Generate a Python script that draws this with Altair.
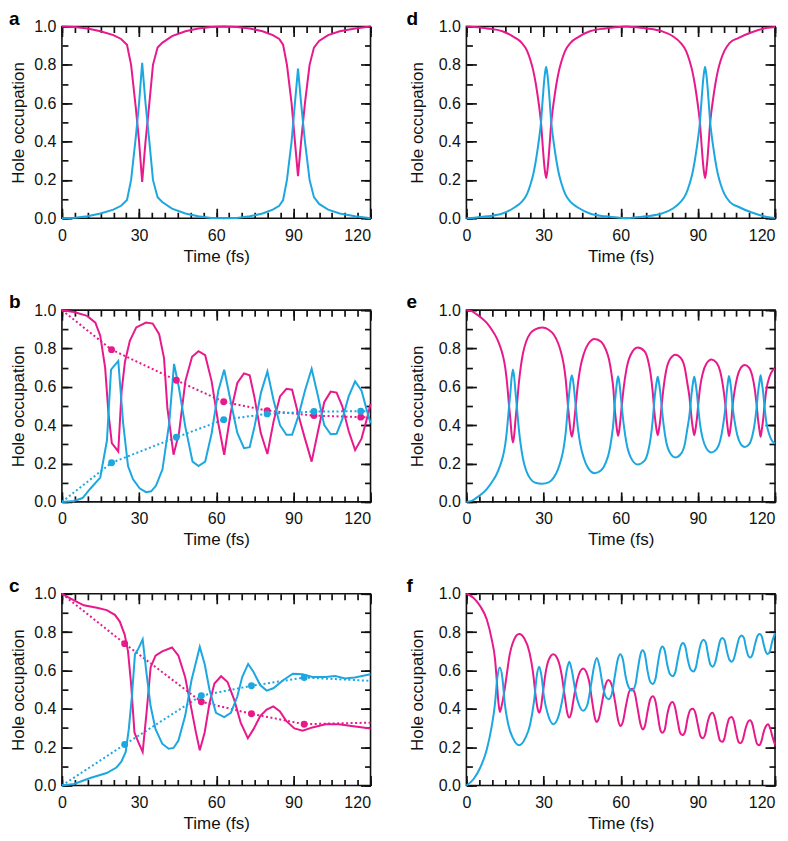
import altair as alt
import pandas as pd

PINK = "#E8198B"
BLUE = "#1CA7E1"
FONT = "Liberation Sans"
W, H = 309, 192

X_DOMAIN = [0, 120]
Y_DOMAIN = [0, 1]
X_MAJOR = [0, 30, 60, 90, 120]
X_MINOR = [0, 5, 10, 15, 20, 25, 30, 35, 40, 45, 50, 55, 60, 65, 70, 75, 80, 85, 90, 95, 100, 105, 110, 115, 120]
Y_MAJOR = [0.0, 0.2, 0.4, 0.6, 0.8, 1.0]
Y_MINOR = [0.0, 0.1, 0.2, 0.3, 0.4, 0.5, 0.6, 0.7, 0.8, 0.9, 1.0]
X_TITLE = "Time (fs)"
Y_TITLE = "Hole occupation"

# ---------------- panel a ----------------
A_T = [0, 5, 10, 15, 20, 23, 25.3, 26.9, 28.7, 30, 31.2, 32.5, 34, 35.4, 37.2, 39, 42.8, 48, 53, 58,
       63, 68, 73, 78, 82, 84.5, 86, 87.5, 89.3, 90.6, 91.8, 93, 94.5, 96.3, 98, 100, 103.5, 108, 114, 120]
A_PINK = [1.0, 0.997, 0.99, 0.975, 0.955, 0.935, 0.905, 0.80, 0.58, 0.40, 0.19, 0.40, 0.60, 0.80, 0.89,
          0.915, 0.95, 0.975, 0.99, 0.998, 1.0, 0.998, 0.99, 0.975, 0.955, 0.935, 0.905, 0.80, 0.60, 0.40,
          0.22, 0.40, 0.60, 0.80, 0.89, 0.925, 0.955, 0.975, 0.99, 1.0]
A_BLUE = [0, 0.003, 0.01, 0.025, 0.045, 0.065, 0.095, 0.20, 0.42, 0.60, 0.81, 0.60, 0.40, 0.20, 0.11,
          0.085, 0.05, 0.025, 0.01, 0.002, 0, 0.002, 0.01, 0.025, 0.045, 0.065, 0.095, 0.20, 0.40, 0.60,
          0.78, 0.60, 0.40, 0.20, 0.11, 0.075, 0.045, 0.025, 0.01, 0]

# ---------------- panel b ----------------
B_PINK_T = [0, 4.7, 9.8, 13, 14.9, 16.8, 18.1, 19.4, 21.9, 23.2, 24.5, 26.4, 28.9, 32.7, 35.3, 37.8, 39.7,
            41, 43.4, 45.5, 48, 50.6, 53.1, 55.7, 58.2, 60.8, 63.1, 65.7, 68.2, 70.8, 73, 74.8, 77.3, 79.9,
            82.3, 84.8, 87.3, 89.5, 92, 94.5, 97.1, 99.6, 102, 104.5, 106.8, 109, 111.5, 114, 116.5, 118.5, 120]
B_PINK = [1.0, 0.99, 0.97, 0.935, 0.867, 0.70, 0.46, 0.306, 0.263, 0.578, 0.73, 0.84, 0.91, 0.935, 0.93,
          0.875, 0.75, 0.49, 0.246, 0.357, 0.63, 0.757, 0.786, 0.765, 0.63, 0.41, 0.246, 0.47, 0.62, 0.67,
          0.66, 0.55, 0.36, 0.25, 0.42, 0.55, 0.59, 0.585, 0.45, 0.33, 0.21, 0.37, 0.52, 0.575, 0.57, 0.5,
          0.37, 0.27, 0.33, 0.43, 0.51]
B_BLUE_T = [0, 4.7, 8, 11.1, 14.9, 17.5, 19.1, 21.9, 23.8, 25.7, 27.6, 30.2, 32.7, 34.7, 36.6, 39.1, 41.7,
            43.6, 45.5, 48, 50.8, 53.1, 55.7, 58.2, 60.8, 63.1, 65.7, 68.2, 70.8, 73, 75, 77.4, 79.9, 82.3,
            84.8, 87.3, 89.5, 92, 94.5, 97.1, 99.6, 102, 104.5, 106.8, 109, 111.5, 114, 116.5, 118.5, 120]
B_BLUE = [0, 0.005, 0.02, 0.07, 0.127, 0.32, 0.69, 0.735, 0.41, 0.187, 0.119, 0.071, 0.051, 0.055, 0.085,
          0.17, 0.41, 0.72, 0.595, 0.39, 0.21, 0.187, 0.21, 0.357, 0.578, 0.689, 0.52, 0.36, 0.28, 0.285,
          0.40, 0.57, 0.68, 0.53, 0.40, 0.35, 0.35, 0.45, 0.58, 0.694, 0.55, 0.40, 0.353, 0.355, 0.43, 0.55,
          0.629, 0.58, 0.48, 0.41]
B_MARK_T = [19.3, 44.5, 62.9, 79.8, 98, 116.2]
B_MARK_PINK = [0.794, 0.634, 0.522, 0.476, 0.45, 0.442]
B_MARK_BLUE = [0.204, 0.337, 0.429, 0.459, 0.471, 0.473]
B_DOT_START = [1.0, 0.0]   # pink, blue at t = 0
B_DOT_END = [0.44, 0.473]  # pink, blue at t = 120

# ---------------- panel c ----------------
C_PINK_T = [0, 4.7, 8.5, 13.6, 17.4, 20.6, 22.5, 24.4, 25.7, 26.9, 28.2, 29.7, 31.4, 32.9, 34.5, 36.4, 39,
            42.8, 45.3, 47.9, 50.4, 52.1, 53.6, 55.5, 57.4, 59.3, 61.9, 64.4, 67, 69.5, 72.3, 74.5, 77.1,
            79.6, 82.2, 84.7, 87.2, 90.4, 93.6, 97.4, 102.5, 107.6, 112.6, 120]
C_PINK = [1.0, 0.966, 0.94, 0.927, 0.915, 0.89, 0.855, 0.787, 0.70, 0.53, 0.277, 0.226, 0.175, 0.38, 0.617,
          0.677, 0.70, 0.72, 0.677, 0.566, 0.396, 0.277, 0.184, 0.277, 0.43, 0.532, 0.57, 0.54, 0.447, 0.328,
          0.247, 0.294, 0.362, 0.396, 0.413, 0.388, 0.337, 0.298, 0.286, 0.303, 0.32, 0.32, 0.311, 0.298]
C_BLUE_T = [0, 4.7, 11, 17.4, 21.2, 23.1, 24.8, 26, 27.2, 28.4, 29.6, 31.4, 32.9, 34.5, 36.4, 39, 41.5, 43.4,
            45.3, 47.9, 50.4, 53.6, 55.5, 57.4, 59.9, 63.1, 65.7, 68.2, 70.1, 72.4, 74.5, 77.1, 79.6, 82.2,
            86, 89.8, 93.6, 97.4, 102.5, 106.3, 110.1, 113.9, 120]
C_BLUE = [0, 0.008, 0.039, 0.065, 0.094, 0.124, 0.175, 0.294, 0.464, 0.685, 0.71, 0.762, 0.583, 0.413,
          0.294, 0.218, 0.192, 0.196, 0.235, 0.362, 0.55, 0.723, 0.634, 0.498, 0.379, 0.357, 0.379, 0.464,
          0.566, 0.634, 0.592, 0.524, 0.495, 0.507, 0.549, 0.583, 0.58, 0.566, 0.566, 0.571, 0.558, 0.563, 0.58]
C_MARK_T = [24.4, 54.2, 73.7, 94.2]
C_MARK_PINK = [0.74, 0.437, 0.374, 0.32]
C_MARK_BLUE = [0.214, 0.469, 0.52, 0.563]
C_DOT_START = [1.0, 0.0]
C_DOT_END = [0.328, 0.546]

# ---------------- panel d ----------------
D_T = [0, 3, 8, 14, 18.5, 21.5, 23.6, 25, 26, 27, 27.9, 28.5, 29, 29.5, 30, 30.5, 31, 31.5, 32, 32.5,
       33, 33.5, 34.1, 35, 36, 37, 38.4, 40.5, 43.5, 48, 54, 60, 62, 64, 70, 76, 80.3, 83.3, 85.4, 86.8,
       87.8, 88.8, 89.7, 90.3, 90.8, 91.3, 91.8, 92.3, 92.8, 93.3, 93.8, 94.3, 94.8, 95.3, 95.9, 96.8, 97.8,
       98.8, 100.3, 102.4, 105.7, 111, 117, 120]
D_PINK = [1.0, 0.997, 0.99, 0.975, 0.945, 0.915, 0.873, 0.82, 0.77, 0.70, 0.62, 0.56, 0.50, 0.41, 0.32,
          0.25, 0.21, 0.25, 0.32, 0.41, 0.50, 0.56, 0.62, 0.70, 0.77, 0.82, 0.873, 0.915, 0.945, 0.975,
          0.99, 0.998, 1.0, 0.998, 0.99, 0.975, 0.949, 0.915, 0.873, 0.82, 0.77, 0.70, 0.62, 0.56, 0.50,
          0.41, 0.32, 0.25, 0.21, 0.25, 0.32, 0.41, 0.50, 0.56, 0.62, 0.70, 0.77, 0.82, 0.873, 0.915,
          0.94, 0.97, 0.993, 0.998]
D_BLUE = [0, 0.003, 0.01, 0.025, 0.055, 0.085, 0.127, 0.18, 0.23, 0.30, 0.38, 0.44, 0.50, 0.59, 0.68,
          0.75, 0.79, 0.75, 0.68, 0.59, 0.50, 0.44, 0.38, 0.30, 0.23, 0.18, 0.127, 0.085, 0.055, 0.025,
          0.01, 0.002, 0, 0.002, 0.01, 0.025, 0.051, 0.085, 0.127, 0.18, 0.23, 0.30, 0.38, 0.44, 0.50,
          0.59, 0.68, 0.75, 0.79, 0.75, 0.68, 0.59, 0.50, 0.44, 0.38, 0.30, 0.23, 0.18, 0.127, 0.085,
          0.06, 0.03, 0.007, 0.002]

# ---------------- panel e ----------------
E_T = [0, 2, 4, 6, 8, 10, 11.7, 13, 14.3, 15.1,
       15.8, 16.6, 17.1, 17.6, 18.1, 18.6, 19.1, 19.6, 20.4, 21.1,
       22, 23.2, 24.8, 26.8, 29.4, 32, 34, 35.6, 36.8, 37.8,
       38.6, 39.5, 40, 40.5, 41, 41.5, 42, 42.5, 43.4, 44.3,
       45.6, 47.4, 49.9, 52.4, 54.2, 55.5, 56.4, 57.2, 57.6, 58.1,
       58.5, 59, 59.5, 59.9, 60.4, 61.2, 62.2, 63.8, 66.6, 69.3,
       70.6, 71.6, 72.4, 72.9, 73.4, 73.9, 74.4, 74.9, 75.4, 75.9,
       76.7, 77.6, 79.2, 81.3, 83.4, 84.9, 85.9, 86.7, 87.1, 87.6,
       88.1, 88.6, 89.1, 89.6, 90.1, 90.9, 91.9, 93.3, 95.3, 97.3,
       98.7, 99.7, 100.5, 100.9, 101.3, 101.7, 102.1, 102.6, 103, 103.5,
       104.3, 105.3, 106.6, 108.2, 109.9, 111.1, 112.1, 112.9, 113.4, 113.9,
       114.4, 114.9, 115.4, 115.9, 116.7, 117.8, 119, 120]
E_PINK = [1.0, 0.995, 0.978, 0.958, 0.932, 0.895, 0.857, 0.815, 0.757, 0.70,
          0.62, 0.50, 0.43, 0.35, 0.31, 0.35, 0.43, 0.50, 0.62, 0.70,
          0.775, 0.835, 0.878, 0.90, 0.91, 0.898, 0.872, 0.83, 0.78, 0.72,
          0.64, 0.50, 0.43, 0.37, 0.34, 0.37, 0.43, 0.50, 0.62, 0.70,
          0.77, 0.825, 0.85, 0.835, 0.795, 0.74, 0.67, 0.58, 0.50, 0.43,
          0.38, 0.345, 0.38, 0.43, 0.50, 0.60, 0.69, 0.765, 0.805, 0.785,
          0.74, 0.67, 0.58, 0.50, 0.43, 0.38, 0.348, 0.38, 0.43, 0.50,
          0.60, 0.68, 0.745, 0.768, 0.75, 0.70, 0.62, 0.55, 0.50, 0.43,
          0.38, 0.348, 0.38, 0.43, 0.50, 0.60, 0.67, 0.72, 0.742, 0.725,
          0.68, 0.61, 0.53, 0.48, 0.42, 0.375, 0.343, 0.375, 0.42, 0.50,
          0.58, 0.65, 0.697, 0.714, 0.70, 0.66, 0.59, 0.50, 0.43, 0.38,
          0.34, 0.38, 0.43, 0.50, 0.59, 0.65, 0.685, 0.695]
E_BLUE = [0.0, 0.005, 0.022, 0.042, 0.068, 0.105, 0.143, 0.185, 0.243, 0.30,
          0.38, 0.50, 0.57, 0.65, 0.69, 0.65, 0.57, 0.50, 0.38, 0.30,
          0.225, 0.165, 0.122, 0.10, 0.095, 0.102, 0.128, 0.17, 0.22, 0.28,
          0.36, 0.50, 0.57, 0.63, 0.66, 0.63, 0.57, 0.50, 0.38, 0.30,
          0.23, 0.175, 0.15, 0.165, 0.205, 0.26, 0.33, 0.42, 0.50, 0.57,
          0.62, 0.655, 0.62, 0.57, 0.50, 0.40, 0.31, 0.235, 0.195, 0.215,
          0.26, 0.33, 0.42, 0.50, 0.57, 0.62, 0.652, 0.62, 0.57, 0.50,
          0.40, 0.32, 0.255, 0.232, 0.25, 0.30, 0.38, 0.45, 0.50, 0.57,
          0.62, 0.652, 0.62, 0.57, 0.50, 0.40, 0.33, 0.28, 0.258, 0.275,
          0.32, 0.39, 0.47, 0.52, 0.58, 0.625, 0.657, 0.625, 0.58, 0.50,
          0.42, 0.35, 0.303, 0.286, 0.30, 0.34, 0.41, 0.50, 0.57, 0.62,
          0.66, 0.62, 0.57, 0.50, 0.41, 0.35, 0.315, 0.305]

# ---------------- panel f ----------------
F_PINK_T = [0, 2.8, 5.4, 7.9, 9.8, 11.1, 11.8, 12.4, 13, 13.6,
            14.5, 15.5, 16.8, 18.5, 20.5, 22.6, 24.6, 25.9, 27, 27.7,
            28.3, 28.9, 29.7, 30.7, 32, 33.8, 35.6, 37, 38.3, 39.2,
            40, 40.8, 41.8, 43.1, 45.4, 47.6, 49, 50, 50.7, 51.5,
            52.7, 54, 55.2, 56.6, 57.9, 59, 59.8, 60.8, 62.1, 63.3,
            64.4, 65.5, 66.6, 67.7, 68.5, 69.4, 70.5, 71.5, 72.5, 73.5,
            74.5, 75.4, 76.2, 77.1, 78.1, 79.1, 80.1, 81.1, 82.1, 83.1,
            84, 85, 86, 87.1, 88.1, 89.1, 90.1, 91.1, 91.9, 92.8,
            93.8, 94.8, 95.7, 96.6, 97.6, 98.6, 99.4, 100.3, 101.3, 102.2,
            103.1, 104, 104.9, 105.8, 106.6, 107.5, 108.5, 109.4, 110.3, 111.2,
            112.1, 113, 113.8, 114.7, 115.6, 116.5, 117.3, 118.1, 119, 120]
F_PINK = [1.0, 0.978, 0.935, 0.867, 0.765, 0.663, 0.55, 0.44, 0.383, 0.41,
          0.47, 0.56, 0.68, 0.76, 0.79, 0.765, 0.69, 0.59, 0.46, 0.40,
          0.38, 0.40, 0.48, 0.58, 0.655, 0.685, 0.655, 0.58, 0.46, 0.38,
          0.355, 0.38, 0.46, 0.55, 0.61, 0.55, 0.43, 0.35, 0.332, 0.35,
          0.43, 0.52, 0.55, 0.52, 0.43, 0.34, 0.31, 0.33, 0.42, 0.49,
          0.505, 0.48, 0.40, 0.32, 0.293, 0.31, 0.39, 0.45, 0.465, 0.44,
          0.36, 0.29, 0.275, 0.29, 0.37, 0.42, 0.435, 0.41, 0.34, 0.275,
          0.263, 0.28, 0.35, 0.395, 0.40, 0.375, 0.31, 0.255, 0.247, 0.265,
          0.33, 0.37, 0.38, 0.355, 0.29, 0.235, 0.228, 0.245, 0.31, 0.35,
          0.357, 0.335, 0.275, 0.228, 0.221, 0.24, 0.295, 0.33, 0.34, 0.32,
          0.265, 0.218, 0.21, 0.23, 0.28, 0.31, 0.32, 0.30, 0.255, 0.213]
F_BLUE_T = [0, 2.8, 5.4, 7.9, 9.8, 11.1, 12, 13, 14, 14.9,
            16.2, 18.1, 20.5, 22.9, 24.8, 26.3, 27.5, 28.3, 29.1, 30.2,
            31.7, 33.8, 35.9, 37.6, 39, 40, 41, 42.4, 43.8, 45.4,
            47, 48.4, 49.7, 50.7, 51.7, 52.9, 54.1, 55.3, 56.5, 57.7,
            58.9, 59.8, 60.8, 61.9, 63.2, 64.4, 65.6, 66.7, 67.7, 68.5,
            69.4, 70.4, 71.5, 72.5, 73.5, 74.5, 75.4, 76.2, 77.1, 78.1,
            79.2, 80.2, 81.2, 82.2, 83.3, 84.2, 85.1, 86.1, 87.2, 88.2,
            89.2, 90.2, 91.3, 92.2, 93.1, 94, 94.9, 95.8, 96.7, 97.7,
            98.7, 99.5, 100.4, 101.3, 102.3, 103.2, 104.1, 105.1, 106.1, 107,
            107.9, 108.7, 109.6, 110.4, 111.3, 112.2, 113.2, 114, 114.8, 115.7,
            116.5, 117.2, 118, 118.9, 120]
F_BLUE = [0.0, 0.034, 0.094, 0.187, 0.306, 0.425, 0.56, 0.615, 0.56, 0.43,
          0.323, 0.247, 0.21, 0.247, 0.32, 0.44, 0.585, 0.62, 0.58, 0.46,
          0.37, 0.32, 0.365, 0.47, 0.60, 0.645, 0.60, 0.49, 0.42, 0.39,
          0.42, 0.52, 0.625, 0.665, 0.625, 0.53, 0.465, 0.45, 0.475, 0.57,
          0.66, 0.685, 0.66, 0.57, 0.51, 0.495, 0.52, 0.61, 0.685, 0.705,
          0.685, 0.60, 0.54, 0.53, 0.555, 0.64, 0.705, 0.725, 0.705, 0.63,
          0.58, 0.57, 0.59, 0.66, 0.725, 0.743, 0.725, 0.655, 0.605, 0.595,
          0.615, 0.685, 0.745, 0.76, 0.745, 0.68, 0.63, 0.62, 0.64, 0.70,
          0.757, 0.77, 0.757, 0.70, 0.655, 0.646, 0.665, 0.72, 0.77, 0.782,
          0.77, 0.72, 0.677, 0.668, 0.685, 0.735, 0.78, 0.79, 0.78, 0.73,
          0.695, 0.686, 0.70, 0.75, 0.795]

XS = alt.Scale(domain=X_DOMAIN, nice=False, zero=False)
YS = alt.Scale(domain=Y_DOMAIN, nice=False, zero=False)
TICK = dict(domain=False, grid=False, tickColor="#111111", tickWidth=1.7, minExtent=0)
LAB = dict(labelFont=FONT, labelFontSize=16, labelColor="#111111", labelFlush=False, labelOverlap=False)
TIT = dict(titleFont=FONT, titleFontSize=17, titleFontWeight="normal", titleColor="#111111")


def axis_layers(title_pad):
    frame = pd.DataFrame({"t": X_DOMAIN, "v": Y_DOMAIN})
    x_align = {"condition": {"test": "datum.value == 120", "value": "right"}, "value": "center"}
    specs = [
        (alt.Axis(orient="bottom", values=X_MAJOR, tickSize=10, offset=-10, labelPadding=9,
                  labelAlign=x_align, title=X_TITLE, titlePadding=5, **LAB, **TIT, **TICK),
         alt.Axis(orient="left", values=Y_MAJOR, format=".1f", tickSize=10, offset=-10, labelPadding=6,
                  title=Y_TITLE, titlePadding=title_pad, **LAB, **TIT, **TICK)),
        (alt.Axis(orient="top", values=X_MAJOR, tickSize=10, offset=-10, labels=False, title=None, **TICK),
         alt.Axis(orient="right", values=Y_MAJOR, tickSize=10, offset=-10, labels=False, title=None, **TICK)),
        (alt.Axis(orient="bottom", values=X_MINOR, tickSize=6, offset=-6, labels=False, title=None, **TICK),
         alt.Axis(orient="left", values=Y_MINOR, tickSize=6, offset=-6, labels=False, title=None, **TICK)),
        (alt.Axis(orient="top", values=X_MINOR, tickSize=6, offset=-6, labels=False, title=None, **TICK),
         alt.Axis(orient="right", values=Y_MINOR, tickSize=6, offset=-6, labels=False, title=None, **TICK)),
    ]
    return [
        alt.Chart(frame).mark_point(opacity=0, size=0, strokeWidth=0).encode(
            x=alt.X("t:Q", scale=XS, axis=ax), y=alt.Y("v:Q", scale=YS, axis=ay))
        for ax, ay in specs
    ]


def line(ts, ys, color, interp="linear", dash=None, width=2):
    df = pd.DataFrame({"t": ts, "v": ys})
    kw = dict(color=color, strokeWidth=width, interpolate=interp)
    if dash:
        kw["strokeDash"] = dash
    return alt.Chart(df).mark_line(**kw).encode(
        x=alt.X("t:Q", scale=XS, axis=None), y=alt.Y("v:Q", scale=YS, axis=None))


def dots(ts, ys, color):
    df = pd.DataFrame({"t": ts, "v": ys})
    return alt.Chart(df).mark_circle(color=color, size=48, opacity=1).encode(
        x=alt.X("t:Q", scale=XS, axis=None), y=alt.Y("v:Q", scale=YS, axis=None))


def letter(ch, dx):
    df = pd.DataFrame({"label": [ch]})
    return alt.Chart(df).mark_text(align="left", baseline="top", font=FONT, fontSize=19,
                                   fontWeight="bold", color="#000000").encode(
        x=alt.value(dx), y=alt.value(-17), text="label:N")


def panel(ch, col, layers):
    dx = -53 if col == 0 else -60
    tp = 6 if col == 0 else 12
    return alt.layer(*axis_layers(tp), *layers, letter(ch, dx)).resolve_axis(
        x="independent", y="independent").properties(width=W, height=H)


def with_markers(mark_t, mark_p, mark_b, start, end):
    tt = [X_DOMAIN[0]] + mark_t + [X_DOMAIN[1]]
    return [
        line(tt, [start[0]] + mark_p + [end[0]], PINK, dash=[2, 2.5], width=2),
        line(tt, [start[1]] + mark_b + [end[1]], BLUE, dash=[2, 2.5], width=2),
    ]


pa = panel("a", 0, [line(A_T, A_PINK, PINK), line(A_T, A_BLUE, BLUE)])
pb = panel("b", 0, with_markers(B_MARK_T, B_MARK_PINK, B_MARK_BLUE, B_DOT_START, B_DOT_END) + [
    line(B_PINK_T, B_PINK, PINK), line(B_BLUE_T, B_BLUE, BLUE),
    dots(B_MARK_T, B_MARK_PINK, PINK), dots(B_MARK_T, B_MARK_BLUE, BLUE)])
pc = panel("c", 0, with_markers(C_MARK_T, C_MARK_PINK, C_MARK_BLUE, C_DOT_START, C_DOT_END) + [
    line(C_PINK_T, C_PINK, PINK), line(C_BLUE_T, C_BLUE, BLUE),
    dots(C_MARK_T, C_MARK_PINK, PINK), dots(C_MARK_T, C_MARK_BLUE, BLUE)])
pdd = panel("d", 1, [line(D_T, D_PINK, PINK, "monotone"), line(D_T, D_BLUE, BLUE, "monotone")])
pe = panel("e", 1, [line(E_T, E_PINK, PINK, "monotone"), line(E_T, E_BLUE, BLUE, "monotone")])
pf = panel("f", 1, [line(F_PINK_T, F_PINK, PINK, "monotone"), line(F_BLUE_T, F_BLUE, BLUE, "monotone")])

HS = 30
VS = 27
chart = alt.vconcat(
    alt.hconcat(pa, pdd, spacing=HS),
    alt.hconcat(pb, pe, spacing=HS),
    alt.hconcat(pc, pf, spacing=HS),
    spacing=VS,
).properties(padding=0).configure(font=FONT).configure_view(stroke="#111111", strokeWidth=1.6)

chart.save("out.html", embed_options={"renderer": "svg", "actions": False})
